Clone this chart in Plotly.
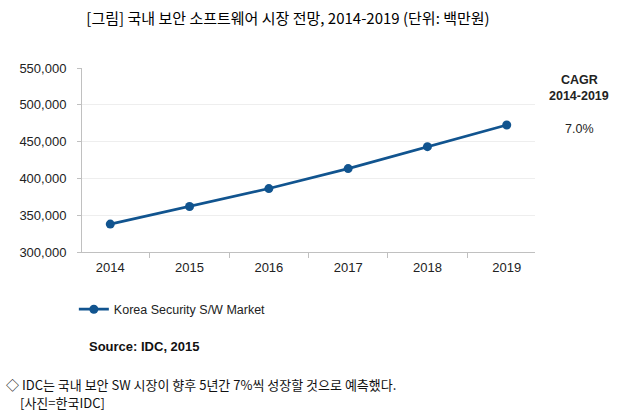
import plotly.graph_objects as go

years = ["2014", "2015", "2016", "2017", "2018", "2019"]
market = [337900, 361800, 386200, 413300, 443100, 472500]
y_ticks = [300000, 350000, 400000, 450000, 500000, 550000]

blue = "#11548f"
ko = "Noto Sans CJK KR"
en = "Liberation Sans, Arial"

fig = go.Figure()
fig.add_trace(go.Scatter(
    x=years, y=market, mode="lines+markers",
    name="Korea Security S/W Market",
    line=dict(color=blue, width=2.7),
    marker=dict(color=blue, size=9),
))

ann = [
    dict(text="<b>CAGR</b>", x=1.098, y=0.933),
    dict(text="<b>2014-2019</b>", x=1.098, y=0.848),
    dict(text="7.0%", x=1.098, y=0.668),
]
annotations = [
    dict(text=a["text"], x=a["x"], y=a["y"], xref="paper", yref="paper",
         showarrow=False, xanchor="center", yanchor="middle",
         font=dict(family=en, size=12.5, color="#222"))
    for a in ann
]
annotations += [
    dict(text="<b>Source: IDC, 2015</b>", x=0.0104, y=-0.511, xref="paper", yref="paper",
         showarrow=False, xanchor="left", yanchor="middle",
         font=dict(family=en, size=13, color="#111")),
    dict(text="◇ IDC는 국내 보안 SW 시장이 향후 5년간 7%씩 성장할 것으로 예측했다.",
         x=-0.173, y=-0.719, xref="paper", yref="paper",
         showarrow=False, xanchor="left", yanchor="middle",
         font=dict(family=ko, size=13, color="#111")),
    dict(text="[사진=한국IDC]", x=-0.1405, y=-0.818, xref="paper", yref="paper",
         showarrow=False, xanchor="left", yanchor="middle",
         font=dict(family=ko, size=13, color="#111")),
]

fig.update_layout(
    width=621, height=416,
    margin=dict(l=82, r=86, t=68, b=164),
    paper_bgcolor="white", plot_bgcolor="white",
    title=dict(text="[그림] 국내 보안 소프트웨어 시장 전망, 2014-2019 (단위: 백만원)",
               x=0.4638, xanchor="center", y=0.954, yanchor="middle",
               font=dict(family=ko, size=15, color="#000")),
    showlegend=True,
    legend=dict(orientation="h", x=-0.018, y=-0.313, xanchor="left", yanchor="middle",
                itemwidth=30, font=dict(family=en, size=12.5, color="#222"),
                bgcolor="rgba(0,0,0,0)"),
    annotations=annotations,
    xaxis=dict(type="category", showgrid=False, showline=True, linecolor="#c0c0c0",
               ticks="outside", tickson="boundaries", ticklen=5, tickcolor="#c0c0c0",
               ticklabelstandoff=3,
               tickfont=dict(family=en, size=13, color="#222")),
    yaxis=dict(range=[300000, 550000], tickvals=y_ticks, tickformat=",",
               showgrid=True, gridcolor="#eeeeee", showline=True, linecolor="#c0c0c0",
               zeroline=False, ticks="outside", ticklen=4, tickcolor="#c0c0c0",
               ticklabelstandoff=8,
               tickfont=dict(family=en, size=13, color="#222")),
)

# drop the page's default body margin so the figure sits at the window corner
fig.write_html("out.html", config={"displayModeBar": False},
               post_script="document.body.style.margin='0';")
